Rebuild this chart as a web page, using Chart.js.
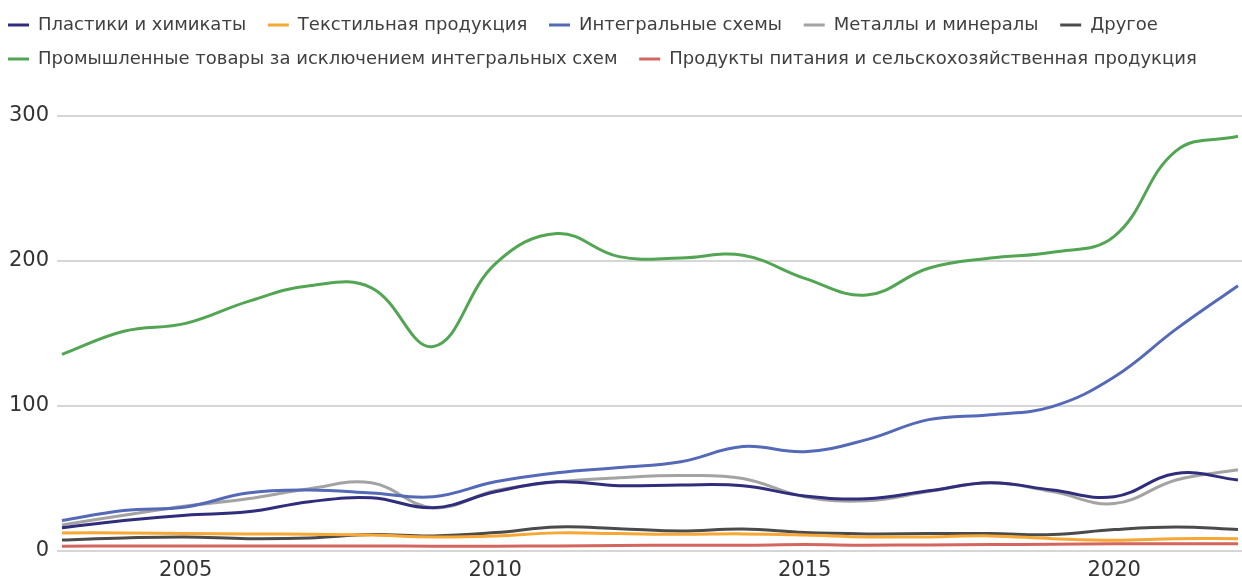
<!DOCTYPE html>
<html>
<head>
<meta charset="utf-8">
<script src="https://cdn.jsdelivr.net/npm/chart.js@4.4.1/dist/chart.umd.min.js"></script>
<style>
html, body { margin: 0; padding: 0; background: #fff; }
#wrap { width: 1242px; height: 582px; }
</style>
</head>
<body>
<div id="wrap"><canvas id="myChart"></canvas></div>
<script>
const years = [2003,2004,2005,2006,2007,2008,2009,2010,2011,2012,2013,2014,2015,2016,2017,2018,2019,2020,2021,2022];
const tickYears = [2005, 2010, 2015, 2020];
const yTicks = [0, 100, 200, 300];

const plastics = [16,21,24.7,27,34,36.7,29.8,40.8,47.7,45,45.6,45,38,36,41.5,47,42,37.4,53.5,49];
const textiles = [12.5,12.5,12,11.8,11.5,11,9.7,10.4,12.5,12,11.5,11.8,11,9.7,9.7,10.4,8.5,7.4,8.5,8.5];
const chips = [21,28,30.4,40,42,40,37.4,47.7,54,57.6,61.6,72,68.5,76.8,90.6,94,99.6,120,153,183];
const metals = [18,24.7,31,36,43,47,29.8,41.5,47.7,50.5,52,50,37.4,34.6,41,47,41,32.7,49,56];
const other = [7.6,9,9.7,8.5,9,11.3,10.4,12.7,16.6,15.4,13.8,15.2,12.7,11.8,12,12,11.3,14.8,16.6,14.8];
const industrial = [135.6,151.6,157,172,183,181.5,141,198,219,203,202,204,188,176.5,195,202,206,217,276,286];
const food = [3.3,3.5,3.5,3.5,3.5,3.5,3.3,3.3,3.5,3.8,4,4,4.4,4,4.2,4.4,4.6,5,5,5];

const names = [
	'Пластики и химикаты',
	'Текстильная продукция',
	'Интегральные схемы',
	'Металлы и минералы',
	'Другое',
	'Промышленные товары за исключением интегральных схем',
	'Продукты питания и сельскохозяйственная продукция'
];
const colors = ['#2f2d7c','#f7a733','#5469b7','#a3a3a3','#4b4b4b','#52a552','#d4665f'];
const series = [plastics, textiles, chips, metals, other, industrial, food];

const fontFamily = 'DejaVu Sans';

// extra room under the legend
const legendSpacing = {
	id: 'legendSpacing',
	beforeInit(chart) {
		const fit = chart.legend.fit;
		chart.legend.fit = function () {
			fit.bind(chart.legend)();
			this.height += 38;
		};
	}
};

const ctx = document.getElementById('myChart');

const myChart = new Chart(ctx, {
	type: 'line',
	data: {
		datasets: series.map((values, i) => ({
			label: names[i],
			data: years.map((y, j) => ({x: y, y: values[j]})),
			borderColor: colors[i],
			backgroundColor: colors[i],
			borderWidth: 3,
			pointRadius: 0,
			tension: 0.4,
			fill: false
		}))
	},
	options: {
		responsive: true,
		maintainAspectRatio: false,
		animation: false,
		layout: { padding: { left: -8, right: 0, top: 0, bottom: 0 } },
		scales: {
			x: {
				type: 'linear',
				min: 2002.92,
				max: 2022.065,
				afterBuildTicks: axis => { axis.ticks = tickYears.map(v => ({value: v})); },
				afterFit: axis => { axis.height = 31; },
				grid: { display: false, drawTicks: false },
				border: { display: false },
				ticks: {
					color: '#333',
					padding: 7,
					maxRotation: 0,
					font: { family: fontFamily, size: 21 },
					callback: v => String(v)
				}
			},
			y: {
				min: 0,
				max: 300,
				afterBuildTicks: axis => { axis.ticks = yTicks.map(v => ({value: v})); },
				afterFit: axis => { axis.width = 65; },
				grid: { color: '#d6d6d6', lineWidth: 2, drawTicks: false },
				border: { display: false },
				ticks: {
					color: '#333',
					padding: 8,
					font: { family: fontFamily, size: 21 }
				}
			}
		},
		plugins: {
			legend: {
				position: 'top',
				align: 'start',
				labels: {
					boxWidth: 21,
					boxHeight: 3,
					padding: 16,
					color: '#404040',
					font: { family: fontFamily, size: 18 },
					generateLabels: chart => Chart.defaults.plugins.legend.labels.generateLabels(chart).map(item => ({
						...item,
						text: item.text + ' ',
						fillStyle: item.strokeStyle,
						lineWidth: 0
					}))
				}
			},
			tooltip: { enabled: false }
		}
	},
	plugins: [legendSpacing]
});
</script>
</body>
</html>
